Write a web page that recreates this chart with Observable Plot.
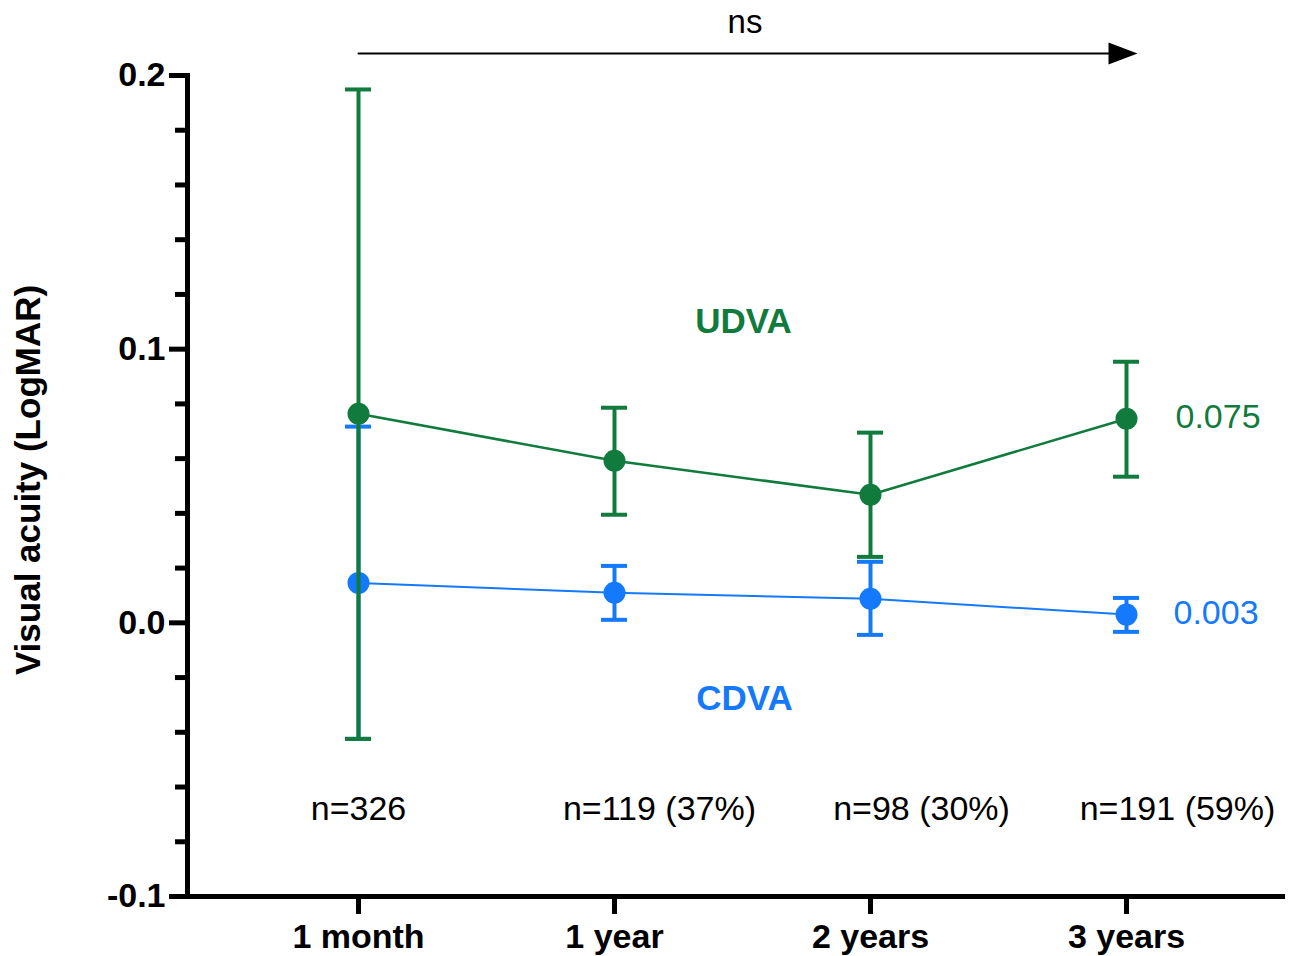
<!DOCTYPE html>
<html>
<head>
<meta charset="utf-8">
<script src="https://cdn.jsdelivr.net/npm/d3@7"></script>
<script src="https://cdn.jsdelivr.net/npm/@observablehq/plot@0.6"></script>
<style>
  html, body { margin: 0; padding: 0; background: #fff; }
</style>
</head>
<body>
<div id="chart"></div>
<script>
// ---- data ----
const timepoints = ["1 month", "1 year", "2 years", "3 years"];
const udvaMean = [0.0764, 0.0592, 0.0468, 0.0746];
const udvaLow  = [-0.0424, 0.0395, 0.0241, 0.0534];
const udvaHigh = [0.1949, 0.0786, 0.0695, 0.0954];
const cdvaMean = [0.0146, 0.0110, 0.0088, 0.0030];
const cdvaLow  = [-0.0424, 0.0011, -0.0044, -0.0033];
const cdvaHigh = [0.0717, 0.0208, 0.0223, 0.0091];
const nLabels = ["n=326", "n=119 (37%)", "n=98 (30%)", "n=191 (59%)"];
const yMajorTicks = [-0.1, 0.0, 0.1, 0.2];
const yMajorLabels = ["-0.1", "0.0", "0.1", "0.2"];
const yMinorTicks = [-0.08, -0.06, -0.04, -0.02, 0.02, 0.04, 0.06, 0.08, 0.12, 0.14, 0.16, 0.18];
const udvaEndLabel = "0.075";
const cdvaEndLabel = "0.003";
const sigLabel = "ns";
const yLabel = "Visual acuity (LogMAR)";

// ---- build tables ----
const udva = timepoints.map((t, i) => ({t, mean: udvaMean[i], lo: udvaLow[i], hi: udvaHigh[i]}));
const cdva = timepoints.map((t, i) => ({t, mean: cdvaMean[i], lo: cdvaLow[i], hi: cdvaHigh[i]}));

const GREEN = "#107b3c";
const BLUE = "#1479fb";
const FONT = "Liberation Sans, Arial, Helvetica, sans-serif";
const capInset = 115;

const arrowHead = {
  draw(ctx) {
    ctx.moveTo(-29, -11);
    ctx.lineTo(0, 0);
    ctx.lineTo(-29, 11);
    ctx.closePath();
  }
};

const arrowY = 0.208;
const nY = -0.068;

const seriesMarks = (data, color, lineW) => [
  Plot.ruleX(data, {x: "t", y1: "lo", y2: "hi", stroke: color, strokeWidth: 4}),
  Plot.tickY(data, {x: "t", y: "lo", stroke: color, strokeWidth: 4, insetLeft: capInset, insetRight: capInset}),
  Plot.tickY(data, {x: "t", y: "hi", stroke: color, strokeWidth: 4, insetLeft: capInset, insetRight: capInset}),
  Plot.line(data, {x: "t", y: "mean", stroke: color, strokeWidth: lineW}),
  Plot.dot(data, {x: "t", y: "mean", fill: color, r: 11})
];

const nOffsets = [0, 45, 51, 51];

const chart = Plot.plot({
  width: 1296,
  height: 956,
  marginLeft: 187,
  marginRight: 14,
  marginTop: 75,
  marginBottom: 60,
  style: {fontFamily: FONT, background: "#fff", color: "#000"},
  x: {type: "band", domain: timepoints, range: [228.75, 1254.25], padding: 0},
  y: {domain: [-0.1, 0.2]},
  marks: [
    // axes
    Plot.axisY({ticks: yMinorTicks, tickSize: 12, strokeWidth: 5, text: null, label: null}),
    Plot.axisY({ticks: yMajorTicks, tickSize: 18, strokeWidth: 5, tickPadding: 4,
      tickFormat: (d) => yMajorLabels[yMajorTicks.indexOf(d)],
      fontSize: 34, fontWeight: "bold", label: null}),
    Plot.axisX({tickSize: 18, strokeWidth: 5, tickPadding: 9, fontSize: 34, fontWeight: "bold", label: null}),
    Plot.frame({anchor: "left", strokeWidth: 5, strokeLinecap: "square"}),
    Plot.frame({anchor: "bottom", strokeWidth: 5, strokeLinecap: "square"}),
    // y label
    Plot.text([yLabel], {frameAnchor: "left", textAnchor: "middle", lineAnchor: "middle", dx: -159, dy: -6, rotate: -90, fontSize: 35, fontWeight: "bold"}),
    // series
    ...seriesMarks(cdva, BLUE, 2),
    ...seriesMarks(udva, GREEN, 2.5),
    // series labels
    Plot.text(["UDVA"], {x: () => timepoints[1], y: () => 0.110, dx: 129, fill: GREEN, fontSize: 35, fontWeight: "bold"}),
    Plot.text(["CDVA"], {x: () => timepoints[1], y: () => -0.0278, dx: 130, fill: BLUE, fontSize: 35, fontWeight: "bold"}),
    Plot.text([udvaEndLabel], {x: () => timepoints[3], y: () => udvaMean[3], dx: 49, dy: -2, textAnchor: "start", fill: GREEN, fontSize: 34}),
    Plot.text([cdvaEndLabel], {x: () => timepoints[3], y: () => cdvaMean[3], dx: 47, dy: -2, textAnchor: "start", fill: BLUE, fontSize: 34}),
    // n labels
    ...nLabels.map((lab, i) => Plot.text([lab], {x: () => timepoints[i], y: () => nY, dx: nOffsets[i], fontSize: 34})),
    // ns arrow
    Plot.line([timepoints[0], timepoints[3]], {x: (d) => d, y: () => arrowY, stroke: "#000", strokeWidth: 2}),
    Plot.dot([timepoints[3]], {x: (d) => d, y: () => arrowY, symbol: arrowHead, fill: "#000", stroke: null, dx: 11}),
    Plot.text([sigLabel], {frameAnchor: "top", dx: 10, dy: -66, fontSize: 33})
  ]
});

document.getElementById("chart").appendChild(chart);
</script>
</body>
</html>
